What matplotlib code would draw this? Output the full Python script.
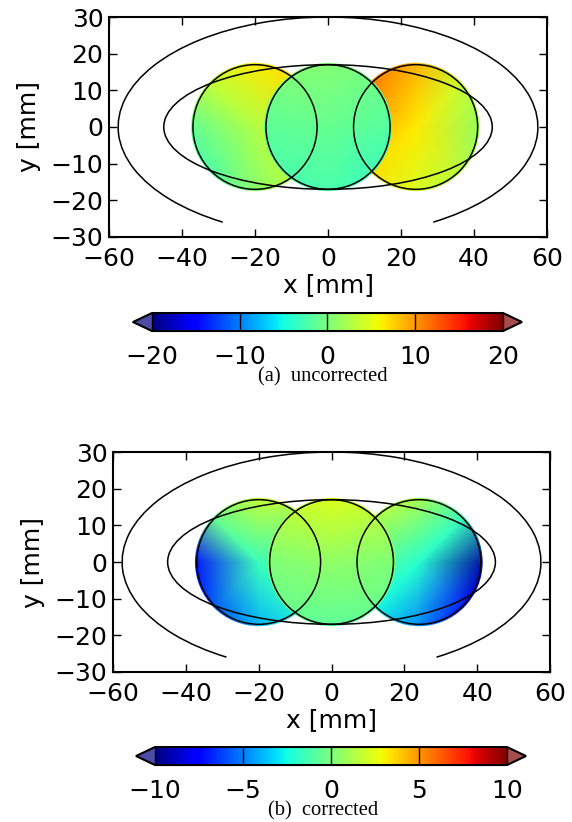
import matplotlib
matplotlib.use("Agg")
import matplotlib.pyplot as plt
import matplotlib.patches as patches
import numpy as np
from matplotlib.colors import Normalize
from matplotlib.cm import ScalarMappable

# geometry (mm)
circle_x = [-20, 24, 0]          # left, right, middle (middle drawn last)
circle_r = 17
outer_w, outer_h = 115, 60       # outer ellipse, open at the bottom
inner_w, inner_h = 90, 34

rim_angles = [0, 45, 90, 135, 180, 225, 270, 315]

# (a) uncorrected: centre value + rim values, per circle
a_centre = [2.5, 6.5, -1.0]
a_rim = [
    [5.0, 7.0, 6.5, 3.5, -1.5, -2.5, 0.5, 3.5],      # left
    [1.0, 3.5, 9.0, 11.5, 10.0, 7.0, 4.5, 2.5],      # right
    [-2.0, -0.5, 0.5, 0.0, -1.5, -2.5, -2.5, -3.0],  # middle
]
a_ticks = [-20, -10, 0, 10, 20]

# (b) corrected
b_centre = [-1.5, -2.0, 0.5]
b_rim = [
    [-0.5, 1.0, 2.0, -0.3, -7.5, -6.0, -4.0, -2.0],   # left
    [-9.5, -1.5, 1.3, 1.5, 0.0, -2.5, -5.0, -7.5],    # right
    [0.0, 1.5, 2.5, 1.5, 0.0, -0.5, -0.8, -0.5],      # middle
]
b_ticks = [-10, -5, 0, 5, 10]

FS = 18

fig = plt.figure(figsize=(5.72, 8.22), dpi=100)


def draw_panel(ax_rect, cax_rect, centres, rims, ticks, caption, cap_y):
    ax = fig.add_axes(ax_rect)
    vmin, vmax = ticks[0], ticks[-1]
    ang = np.radians(rim_angles)
    for cx, cv, rim in zip(circle_x, centres, rims):
        px = np.concatenate([[cx], cx + 19 * np.cos(ang)])
        py = np.concatenate([[0], 19 * np.sin(ang)])
        vals = np.concatenate([[cv], rim])
        tm = ax.tripcolor(px, py, vals, shading='gouraud', cmap='jet',
                          vmin=vmin, vmax=vmax, zorder=1)
        clip = patches.Circle((cx, 0), circle_r + 0.5, transform=ax.transData)
        tm.set_clip_path(clip)

    for cx in circle_x:
        ax.add_patch(patches.Circle((cx, 0), circle_r, fill=False,
                                    edgecolor='k', lw=1.1, zorder=3))
    ax.add_patch(patches.Ellipse((0, 0), inner_w, inner_h, fill=False,
                                 edgecolor='k', lw=1.1, zorder=3))
    ax.add_patch(patches.Arc((0, 0), outer_w, outer_h, theta1=-42, theta2=222,
                             edgecolor='k', lw=1.1, zorder=3))

    ax.set_xlim(-60, 60)
    ax.set_ylim(-30, 30)
    ax.set_xticks([-60, -40, -20, 0, 20, 40, 60])
    ax.set_yticks([-30, -20, -10, 0, 10, 20, 30])
    ax.tick_params(direction='in', top=True, right=True, length=5.5,
                   width=1, labelsize=FS)
    ax.tick_params(axis='x', pad=7)
    ax.tick_params(axis='y', pad=4)
    for s in ax.spines.values():
        s.set_linewidth(1.5)
    ax.set_xlabel('x [mm]', fontsize=FS, labelpad=2)
    ax.set_ylabel('y [mm]', fontsize=FS, labelpad=7)

    cmap = plt.get_cmap('jet').copy()
    cmap.set_under((0, 0, 0.5, 0.7))
    cmap.set_over((0.5, 0, 0, 0.7))
    cax = fig.add_axes(cax_rect)
    sm = ScalarMappable(norm=Normalize(vmin, vmax), cmap=cmap)
    cb = fig.colorbar(sm, cax=cax, orientation='horizontal', extend='both',
                      ticks=ticks, extendfrac=0.054)
    cb.outline.set_linewidth(1.5)
    cb.ax.tick_params(direction='in', length=13, width=1, labelsize=FS, pad=10)
    fig.text(0.565, cap_y, caption, ha='center', va='center',
             family='Liberation Serif', fontsize=14.8)


draw_panel([0.1906, 0.7117, 0.7657, 0.2676], [0.2325, 0.5973, 0.6801, 0.0219],
           a_centre, a_rim, a_ticks, '(a)  uncorrected', 1 - 377 / 822)
draw_panel([0.1976, 0.1825, 0.7640, 0.2676], [0.2378, 0.0693, 0.6818, 0.0219],
           b_centre, b_rim, b_ticks, '(b)  corrected', 1 - 811 / 822)

fig.savefig('out.png', dpi=100)
